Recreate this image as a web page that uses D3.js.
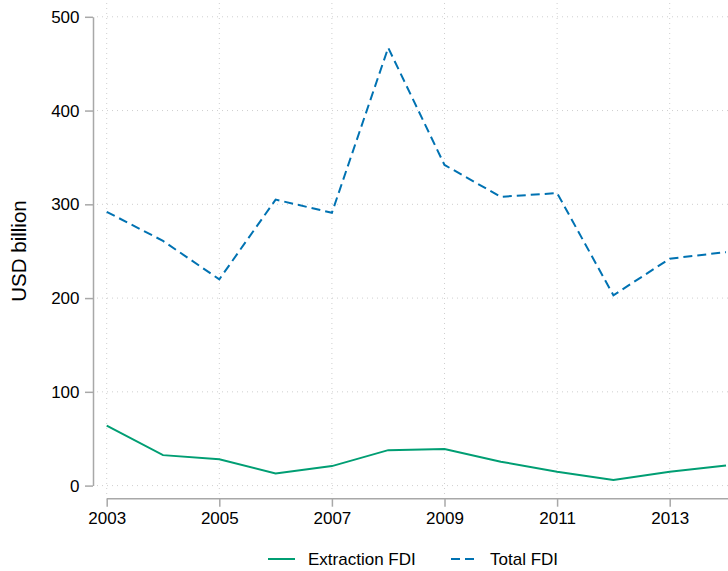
<!DOCTYPE html>
<html><head><meta charset="utf-8">
<script src="https://cdn.jsdelivr.net/npm/d3@7"></script>
<style>body{margin:0;background:#fff;} text{font-family:"Liberation Sans",Arial,sans-serif;}</style>
</head><body><div id="chart"></div>
<script>
const years = [2003,2004,2005,2006,2007,2008,2009,2010,2011,2012,2013,2014];
const extractionFDI = [64,32.5,28,13,20.8,37.8,39,25.5,14.7,5.9,14.7,21.5];
const totalFDI = [292,261,220,305,291,467,342,308,312,203,242,249];
const xTicks = [2003,2005,2007,2009,2011,2013];
const yTicks = [0,100,200,300,400,500];
const seriesNames = ["Extraction FDI","Total FDI"];

const W=728,H=571;
const svg=d3.select("#chart").append("svg").attr("width",W).attr("height",H);
const x=d3.scaleLinear().domain([2003,2014]).range([106.7,726]);
const y=d3.scaleLinear().domain([0,500]).range([485.6,16.8]);
const green="#009E73", blue="#0072B2", grid="#cfcfcf", axisC="#a8a8a8";

// gridlines
svg.append("g").selectAll("line").data(yTicks).join("line")
  .attr("x1",97).attr("x2",W).attr("y1",d=>y(d)).attr("y2",d=>y(d))
  .attr("stroke",grid).attr("stroke-width",1).attr("stroke-dasharray","1,4");
svg.append("g").selectAll("line").data(xTicks).join("line")
  .attr("x1",d=>x(d)).attr("x2",d=>x(d)).attr("y1",3).attr("y2",498)
  .attr("stroke",grid).attr("stroke-width",1).attr("stroke-dasharray","1,4");

// y axis
const yAxis=svg.append("g").attr("transform","translate(93,0)")
  .call(d3.axisLeft(y).tickValues(yTicks).tickSize(8).tickPadding(5.5).tickSizeOuter(0));
yAxis.select(".domain").attr("stroke",axisC).attr("stroke-width",1.5);
yAxis.selectAll(".tick line").attr("stroke",axisC).attr("stroke-width",1.5);
yAxis.selectAll(".tick text").attr("font-size",17).attr("fill","#000").attr("font-family","Liberation Sans, Arial, sans-serif");

// x axis
const xAxis=svg.append("g").attr("transform","translate(0,498.7)")
  .call(d3.axisBottom(x).tickValues(xTicks).tickFormat(d3.format("d")).tickSize(8).tickPadding(5).tickSizeOuter(0));
xAxis.select(".domain").attr("stroke",axisC).attr("stroke-width",1.5).attr("d","M106.7,0H728");
xAxis.selectAll(".tick line").attr("stroke",axisC).attr("stroke-width",1.5);
xAxis.selectAll(".tick text").attr("font-size",17).attr("fill","#000").attr("font-family","Liberation Sans, Arial, sans-serif");

// y label
svg.append("text").attr("transform","translate(26,251) rotate(-90)")
  .attr("text-anchor","middle").attr("font-size",20.5).attr("fill","#000").text("USD billion");

// lines
const line=vals=>d3.line().x((d,i)=>x(years[i])).y(d=>y(d))(vals);
svg.append("path").attr("d",line(totalFDI)).attr("fill","none").attr("stroke",blue)
  .attr("stroke-width",2).attr("stroke-dasharray","9,5");
svg.append("path").attr("d",line(extractionFDI)).attr("fill","none").attr("stroke",green)
  .attr("stroke-width",2);

// legend
const lg=svg.append("g");
lg.append("line").attr("x1",268).attr("x2",295).attr("y1",559).attr("y2",559).attr("stroke",green).attr("stroke-width",2);
lg.append("text").attr("x",308).attr("y",565).attr("font-size",17).text(seriesNames[0]);
lg.append("line").attr("x1",451).attr("x2",478).attr("y1",559).attr("y2",559).attr("stroke",blue).attr("stroke-width",2).attr("stroke-dasharray","9,5");
lg.append("text").attr("x",490).attr("y",565).attr("font-size",17).text(seriesNames[1]);
</script></body></html>
